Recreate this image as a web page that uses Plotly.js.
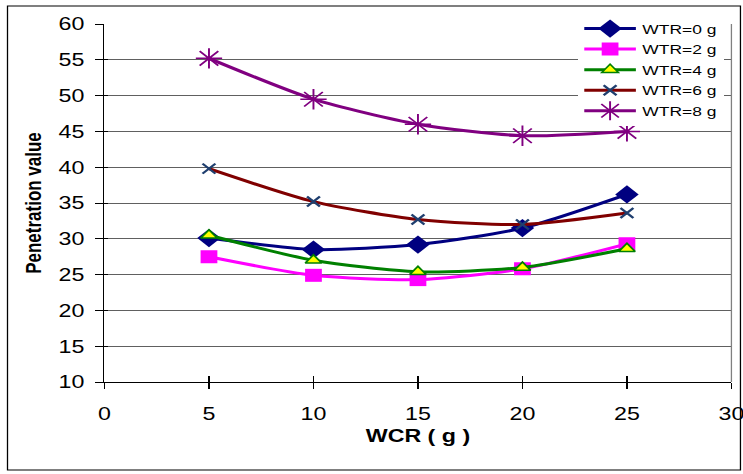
<!DOCTYPE html>
<html><head><meta charset="utf-8">
<script src="https://cdn.plot.ly/plotly-3.0.1.min.js"></script>
<style>
html,body{margin:0;padding:0;background:#fff;overflow:hidden}
#wrap{width:743px;height:474px;overflow:hidden}
#chart{width:592px;height:474px;transform:scaleX(1.29);transform-origin:0 0}
</style>
</head><body><div id="wrap"><div id="chart"></div></div>
<script>
const wcr = [5, 10, 15, 20, 25];
const wtr0 = [30.1, 28.5, 29.2, 31.5, 36.2];
const wtr2 = [27.5, 24.9, 24.3, 25.8, 29.3];
const wtr4 = [30.5, 27.0, 25.4, 26.0, 28.6];
const wtr6 = [39.8, 35.2, 32.7, 32.0, 33.6];
const wtr8 = [55.2, 49.5, 46.0, 44.4, 45.0];
const names = ['WTR=0 g', 'WTR=2 g', 'WTR=4 g', 'WTR=6 g', 'WTR=8 g'];
const xTicks = [0, 5, 10, 15, 20, 25, 30];
const yTicks = [10, 15, 20, 25, 30, 35, 40, 45, 50, 55, 60];

const styles = [
  {line:'#000080', marker:{symbol:'diamond', size:14, color:'#000080'}},
  {line:'#FF00FF', marker:{symbol:'square', size:13, color:'#FF00FF'}},
  {line:'#008000', marker:{symbol:'triangle-up', size:11, color:'#FFFF00', line:{color:'#008000', width:1.5}}},
  {line:'#800000', marker:{symbol:'x-thin-open', size:10, color:'#1F3F6F', line:{color:'#1F3F6F', width:2}}},
  {line:'#800080', marker:{symbol:'asterisk-open', size:17, color:'#800080', line:{color:'#800080', width:1.5}}}
];
const series = [wtr0, wtr2, wtr4, wtr6, wtr8];
const traces = series.map((ys, i) => ({
  x: wcr, y: ys, name: names[i], type: 'scatter', mode: 'lines+markers',
  line: {color: styles[i].line, width: 3, shape: 'spline', smoothing: 0.7},
  marker: styles[i].marker
}));
// empty helper trace so the second (tick-only) axes are drawn
traces.push({x: [], y: [], xaxis: 'x2', yaxis: 'y2', type: 'scatter', mode: 'lines', showlegend: false, hoverinfo: 'skip'});

const layout = {
  width: 592, height: 474,
  margin: {l: 81.4, r: 24.5, t: 24, b: 92},
  paper_bgcolor: '#fff', plot_bgcolor: '#fff',
  font: {family: 'Liberation Sans, Arial, sans-serif', size: 18, color: '#000'},
  showlegend: true,
  legend: {x: 0.755, y: 1.03, xanchor: 'left', yanchor: 'top', bgcolor: '#fff',
    font: {size: 13.5}, tracegroupgap: 0, itemwidth: 40},
  xaxis: {range: [0, 30], tickvals: xTicks, ticks: 'outside', ticklen: 6, tickcolor: '#000',
    showline: true, linecolor: '#000', linewidth: 1, showgrid: false, zeroline: false,
    ticklabelstandoff: 9, tickfont: {size: 18},
    title: {text: '<b>WCR ( g )</b>', font: {size: 18}, standoff: 6}},
  yaxis: {range: [10, 60], tickvals: yTicks, ticks: 'outside', ticklen: 6, tickcolor: '#000',
    showline: true, linecolor: '#000', linewidth: 1, showgrid: true, gridcolor: '#606060', gridwidth: 1,
    zeroline: false, ticklabelstandoff: 5, tickfont: {size: 18},
    title: {text: '<b>Penetration value</b>', font: {size: 17}, standoff: 8}},
  xaxis2: {overlaying: 'x', matches: 'x', anchor: 'y', side: 'bottom', tickvals: xTicks,
    ticks: 'inside', ticklen: 6, tickcolor: '#000', showticklabels: false, showgrid: false, zeroline: false, showline: false},
  yaxis2: {overlaying: 'y', matches: 'y', anchor: 'x', side: 'left', tickvals: yTicks,
    ticks: 'inside', ticklen: 3, tickcolor: '#000', showticklabels: false, showgrid: false, zeroline: false, showline: false},
  shapes: [
    {type: 'line', xref: 'paper', yref: 'paper', x0: 1, x1: 1, y0: 0, y1: 1, line: {color: '#808080', width: 1}},
    {type: 'rect', xref: 'paper', yref: 'paper', x0: -0.1547, x1: 1.0144, y0: -0.2458, y1: 1.0503, line: {color: '#000', width: 1}}
  ]
};
Plotly.newPlot('chart', traces, layout, {displayModeBar: false});
</script></body></html>
